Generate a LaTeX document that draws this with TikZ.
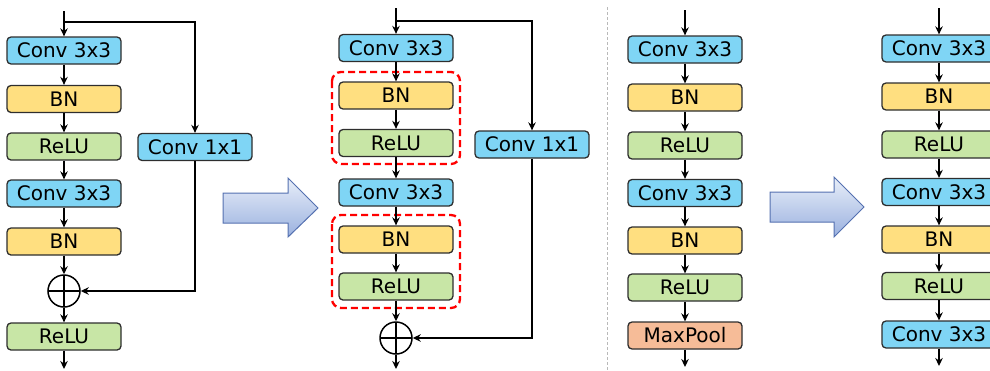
\documentclass[tikz,border=0pt]{standalone}
\usepackage{fontspec}
\setmainfont{DejaVu Sans}
\usetikzlibrary{arrows.meta,shapes.geometric}
\definecolor{convc}{HTML}{7FD5F5}
\definecolor{bnc}{HTML}{FFDF80}
\definecolor{reluc}{HTML}{C8E6A6}
\definecolor{poolc}{HTML}{F6BC98}
\definecolor{edgec}{HTML}{2E2E2E}
\definecolor{bigarrowc}{HTML}{5470B0}
\definecolor{bigtop}{HTML}{E8EEF9}
\definecolor{bigbot}{HTML}{9AB1DF}
\tikzset{
  blk/.style={draw=edgec, line width=1.3pt, rounded corners=4pt, minimum width=114pt,
    minimum height=27pt, inner sep=0pt, font=\fontsize{20}{22}\selectfont},
  conv/.style={blk, fill=convc},
  bn/.style={blk, fill=bnc},
  relu/.style={blk, fill=reluc},
  pool/.style={blk, fill=poolc},
  arr/.style={line width=1.6pt, -{Stealth[length=8pt,width=7.5pt]}},
  sum/.style={circle, draw=black, line width=1.5pt, minimum size=32pt, inner sep=0pt,
    path picture={\draw[line width=1.5pt] (path picture bounding box.north) -- (path picture bounding box.south)
      (path picture bounding box.west) -- (path picture bounding box.east);}},
  grp/.style={draw=red, line width=2.3pt, dash pattern=on 7pt off 4pt, rounded corners=9pt},
  bigarrow/.style={draw=bigarrowc, line width=1pt, top color=bigtop, bottom color=bigbot}
}
\begin{document}
\begin{tikzpicture}[x=1pt,y=-1pt]
\useasboundingbox (0,0) rectangle (990,370);

% ---------- Panel 1 ----------
\coordinate (a0) at (64,11);
\coordinate (abr) at (64,22);
\node[conv] (a1) at (64,50.5) {Conv 3x3};
\node[bn]   (a2) at (64,99) {BN};
\node[relu] (a3) at (64,146.5) {ReLU};
\node[conv] (a4) at (64,193.5) {Conv 3x3};
\node[bn]   (a5) at (64,241.5) {BN};
\node[sum]  (as) at (64,291) {};
\node[relu] (a6) at (64,336.5) {ReLU};
\coordinate (aout) at (64,369);
\node[conv] (ak) at (195,147) {Conv 1x1};
\draw[arr] (a0) -- (a1);
\draw[arr] (a1) -- (a2);
\draw[arr] (a2) -- (a3);
\draw[arr] (a3) -- (a4);
\draw[arr] (a4) -- (a5);
\draw[arr] (a5) -- (as);
\draw[arr] (as) -- (a6);
\draw[arr] (a6) -- (aout);
\draw[arr] (abr) -| (ak.north);
\draw[arr] (ak.south) |- (as.east);

% ---------- big arrow 1 ----------
\path[bigarrow] (223,193) -- (288,193) -- (288,178) -- (318,208) -- (288,237) -- (288,223) -- (223,223) -- cycle;

% ---------- Panel 2 ----------
\coordinate (b0) at (396,8);
\coordinate (bbr) at (396,21);
\node[conv] (b1) at (396,48) {Conv 3x3};
\node[bn]   (b2) at (396,95.5) {BN};
\node[relu] (b3) at (396,143) {ReLU};
\node[conv] (b4) at (396,192.5) {Conv 3x3};
\node[bn]   (b5) at (396,239.5) {BN};
\node[relu] (b6) at (396,286.5) {ReLU};
\node[sum]  (bs) at (396,338) {};
\coordinate (bout) at (396,369);
\node[conv] (bk) at (532,144.5) {Conv 1x1};
\draw[grp] (332,72) rectangle (460,164);
\draw[grp] (332,215) rectangle (460,308);
\draw[arr] (b0) -- (b1);
\draw[arr] (b1) -- (b2);
\draw[arr] (b2) -- (b3);
\draw[arr] (b3) -- (b4);
\draw[arr] (b4) -- (b5);
\draw[arr] (b5) -- (b6);
\draw[arr] (b6) -- (bs);
\draw[arr] (bs) -- (bout);
\draw[arr] (bbr) -| (bk.north);
\draw[arr] (bk.south) |- (bs.east);

% ---------- separator ----------
\draw[gray!55, line width=0.8pt, dash pattern=on 3pt off 2pt] (607,7) -- (607,370);

% ---------- Panel 3 ----------
\coordinate (c0) at (685,10);
\node[conv] (c1) at (685,49.5) {Conv 3x3};
\node[bn]   (c2) at (685,97.5) {BN};
\node[relu] (c3) at (685,145.5) {ReLU};
\node[conv] (c4) at (685,193) {Conv 3x3};
\node[bn]   (c5) at (685,240.5) {BN};
\node[relu] (c6) at (685,287.5) {ReLU};
\node[pool] (c7) at (685,335.5) {MaxPool};
\coordinate (cout) at (685,367);
\draw[arr] (c0) -- (c1);
\draw[arr] (c1) -- (c2);
\draw[arr] (c2) -- (c3);
\draw[arr] (c3) -- (c4);
\draw[arr] (c4) -- (c5);
\draw[arr] (c5) -- (c6);
\draw[arr] (c6) -- (c7);
\draw[arr] (c7) -- (cout);

% ---------- big arrow 2 ----------
\path[bigarrow] (770,192) -- (834,192) -- (834,177) -- (864,207) -- (834,237) -- (834,222) -- (770,222) -- cycle;

% ---------- Panel 4 ----------
\coordinate (d0) at (939,8);
\node[conv] (d1) at (939,48.5) {Conv 3x3};
\node[bn]   (d2) at (939,96.5) {BN};
\node[relu] (d3) at (939,144.5) {ReLU};
\node[conv] (d4) at (939,192) {Conv 3x3};
\node[bn]   (d5) at (939,239.5) {BN};
\node[relu] (d6) at (939,286) {ReLU};
\node[conv] (d7) at (939,334.5) {Conv 3x3};
\coordinate (dout) at (939,366);
\draw[arr] (d0) -- (d1);
\draw[arr] (d1) -- (d2);
\draw[arr] (d2) -- (d3);
\draw[arr] (d3) -- (d4);
\draw[arr] (d4) -- (d5);
\draw[arr] (d5) -- (d6);
\draw[arr] (d6) -- (d7);
\draw[arr] (d7) -- (dout);
\end{tikzpicture}
\end{document}
